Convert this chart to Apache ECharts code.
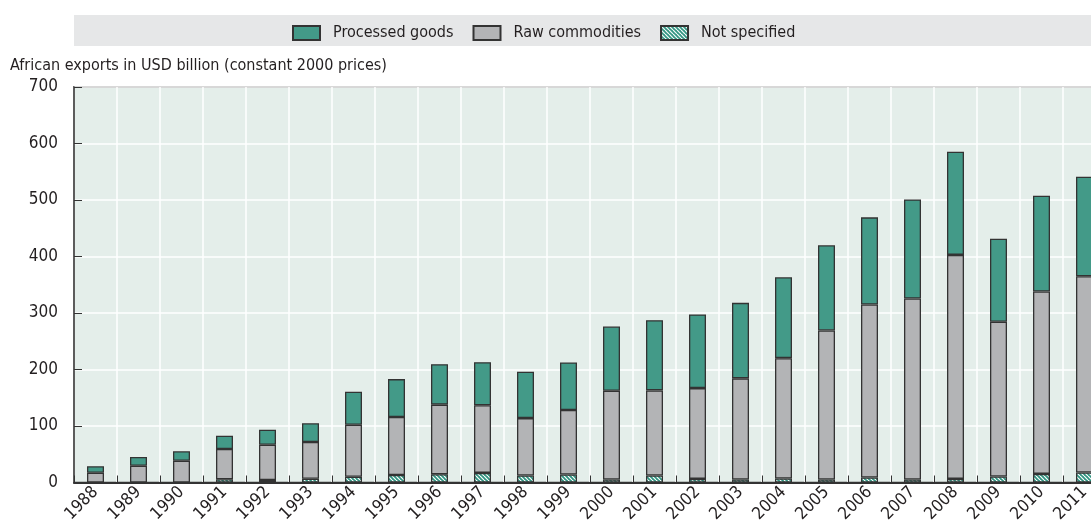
<!DOCTYPE html>
<html><head><meta charset="utf-8">
<script src="https://cdn.jsdelivr.net/npm/echarts@6/dist/echarts.min.js"></script>
<style>html,body{margin:0;padding:0;background:#fff}#c{width:1091px;height:531px}</style>
</head><body><div id="c"></div>
<script>
const years = ['1988','1989','1990','1991','1992','1993','1994','1995','1996','1997','1998','1999','2000','2001','2002','2003','2004','2005','2006','2007','2008','2009','2010','2011'];
const notSpecified = [0,0,0,5.7,4.4,6.7,10.3,13.4,14.7,17,12.4,14.1,5.3,12.4,6.4,5.3,7,5.3,8.8,5.3,6.4,10.6,15.2,17.7];
const rawCommodities = [17.3,29.7,38.6,53.6,62.5,65.0,92.0,102.5,123.1,119.6,101.6,114.2,157.2,150.6,160.7,179,213.1,263.7,306.2,320.3,396.4,273.9,322.8,347.3];
const processedGoods = [11.4,15.4,16.6,23.5,26.6,33.1,58.4,67.1,71.7,76.4,82,84.2,113.5,124.3,130.3,133.7,143.2,150.8,154.3,175.4,182.5,147.1,169.6,176.2];
const yTicks = {min:0, max:700, interval:100};
const yTitle = 'African exports in USD billion (constant 2000 prices)';

const FONT = '"DejaVu Sans Condensed","Roboto",sans-serif';
const TXT = '#231f20';
const TEAL = '#439a88';

const pc = document.createElement('canvas');
pc.width = 4; pc.height = 4;
const g = pc.getContext('2d');
g.fillStyle = '#2f9480'; g.fillRect(0,0,4,4);
g.strokeStyle = '#ffffff'; g.lineWidth = 1.2;
for (const k of [-4,0,4]) { g.beginPath(); g.moveTo(k,0); g.lineTo(k+4,4); g.stroke(); }

const chart = echarts.init(document.getElementById('c'), null, {renderer:'canvas'});
const border = {borderColor:'#333333', borderWidth:1.3};
chart.setOption({
  animation:false,
  textStyle:{fontFamily:FONT},
  graphic:[
    {type:'rect', shape:{x:74,y:15,width:1017,height:31}, style:{fill:'#e6e7e8'}, z:-1},
    {type:'text', left:10, top:58, style:{text:yTitle, font:'16px '+FONT, fill:TXT}}
  ],
  legend:{
    left:292, top:25, padding:0, itemWidth:27, itemHeight:14, itemGap:19, icon:'rect',
    data:['Processed goods','Raw commodities','Not specified'],
    textStyle:{fontSize:16, color:TXT, fontFamily:FONT, padding:[0,0,0,8]}
  },
  grid:{left:74, top:87, width:1032, bottom:48.5, outerBoundsMode:'none', containLabel:false,
        show:true, backgroundColor:'#e4eeea', borderColor:'#333333', borderWidth:1.5},
  xAxis:{
    type:'category', data:years, boundaryGap:true,
    axisLine:{lineStyle:{color:'#333333', width:2}},
    axisTick:{show:true, inside:true, length:7, lineStyle:{color:'#333333'}},
    splitLine:{show:true, lineStyle:{color:'#ffffff', width:1.5}},
    axisLabel:{rotate:45, fontSize:17, color:TXT, fontFamily:FONT, margin:7}
  },
  yAxis:{
    type:'value', min:yTicks.min, max:yTicks.max, interval:yTicks.interval,
    axisLine:{show:true, lineStyle:{color:'#333333', width:1.5}},
    axisTick:{show:true, inside:true, length:8, lineStyle:{color:'#333333'}},
    splitLine:{show:true, lineStyle:{color:'#ffffff', width:1.5}},
    axisLabel:{fontSize:17, color:TXT, fontFamily:FONT, margin:16}
  },
  series:[
    {name:'Not specified', type:'bar', stack:'t', barWidth:17, data:notSpecified,
     itemStyle:Object.assign({color:{image:pc, repeat:'repeat'}}, border)},
    {name:'Raw commodities', type:'bar', stack:'t', barWidth:17, data:rawCommodities,
     itemStyle:Object.assign({color:'#b3b4b6'}, border)},
    {name:'Processed goods', type:'bar', stack:'t', barWidth:17, data:processedGoods,
     itemStyle:Object.assign({color:TEAL}, border)}
  ]
});
</script></body></html>
